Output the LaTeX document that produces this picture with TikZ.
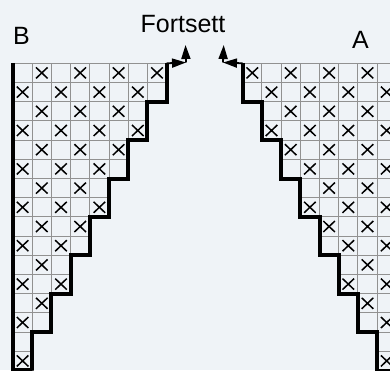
\documentclass[tikz,border=0pt]{standalone}
\usepackage{fontspec}
\setmainfont{Liberation Sans}
\usetikzlibrary{arrows.meta}
\definecolor{pale_bg}{RGB}{239,243,247}
\definecolor{grid_grey}{RGB}{145,145,145}
\begin{document}
\begin{tikzpicture}[x=1pt, y=-1pt,
      label/.style={inner sep=0pt, anchor=base, font=\fontsize{25}{25}\selectfont},
      gridline/.style={draw=grid_grey, line width=1pt},
      cross/.style={black, line width=1.5pt},
      edge/.style={black, line width=4pt, line join=miter},
      turn/.style={black, line width=1.8pt, -{Triangle[length=14pt,width=9pt]}}]
    \useasboundingbox (0,0) rectangle (390,370);
    \fill[pale_bg] (0,0) rectangle (390,370);
    \clip (0,0) rectangle (390,370);
    \def\cw{19.2}
    \def\xb{13}
    \def\xa{242.7}
    \def\ytop{63.3}
    % left block, rows 0..15
    \foreach \r in {0,...,15} {
      \pgfmathtruncatemacro{\n}{8-int(\r/2)}
      \pgfmathtruncatemacro{\m}{\n-1}
      \foreach \c in {0,...,\m} {
        \draw[gridline] ({\xb+\c*\cw},{\ytop+\r*\cw}) rectangle +(\cw,\cw);
        \pgfmathtruncatemacro{\odd}{mod(\r+\c,2)}
        \ifnum\odd=1
          \draw[cross] ({\xb+(\c+.5)*\cw-5.8},{\ytop+(\r+.5)*\cw-5.5}) -- +(11.6,11)
                       ({\xb+(\c+.5)*\cw+5.8},{\ytop+(\r+.5)*\cw-5.5}) -- +(-11.6,11);
        \fi
      }
    }
    % right block
    \foreach \r in {0,...,15} {
      \pgfmathtruncatemacro{\s}{int(\r/2)}
      \foreach \c in {\s,...,7} {
        \draw[gridline] ({\xa+\c*\cw},{\ytop+\r*\cw}) rectangle +(\cw,\cw);
        \pgfmathtruncatemacro{\odd}{mod(\r+\c,2)}
        \ifnum\odd=0
          \draw[cross] ({\xa+(\c+.5)*\cw-5.8},{\ytop+(\r+.5)*\cw-5.5}) -- +(11.6,11)
                       ({\xa+(\c+.5)*\cw+5.8},{\ytop+(\r+.5)*\cw-5.5}) -- +(-11.6,11);
        \fi
      }
    }
    % thick outlines
    \draw[edge] (\xb,{\ytop}) -- (\xb,370) -- ({\xb+\cw},370)
      \foreach \k in {1,...,7} {
        -- ({\xb+\k*\cw},{\ytop+(16-2*\k)*\cw+2*\cw}) -- ({\xb+\k*\cw},{\ytop+(16-2*\k)*\cw})
      } -- ({\xb+8*\cw},{\ytop+2*\cw}) -- ({\xb+8*\cw},{\ytop});
    \draw[edge] (\xa,{\ytop})
      \foreach \k in {0,...,7} {
        -- ({\xa+\k*\cw},{\ytop+2*\k*\cw+2*\cw}) -- ({\xa+(\k+1)*\cw},{\ytop+2*\k*\cw+2*\cw})
      };
    % labels and arrows
    \node[label] (lblB) at (21.5,44) {B};
    \node[label] (lblA) at (360.5,48) {A};
    \node[label] (lblF) at (183,32.5) {Fortsett};
    \coordinate (bstart) at (166.7,63.3);
    \coordinate (bbend) at (186,62.5);
    \coordinate (btop) at (185.5,45);
    \coordinate (astart) at (242.7,63.3);
    \coordinate (abend) at (223,62.5);
    \coordinate (atop) at (223.7,45);
    \draw[turn] (bstart) -- (bbend);
    \draw[turn] (bbend) -- (btop);
    \draw[turn] (astart) -- (abend);
    \draw[turn] (abend) -- (atop);
\end{tikzpicture}
\end{document}
